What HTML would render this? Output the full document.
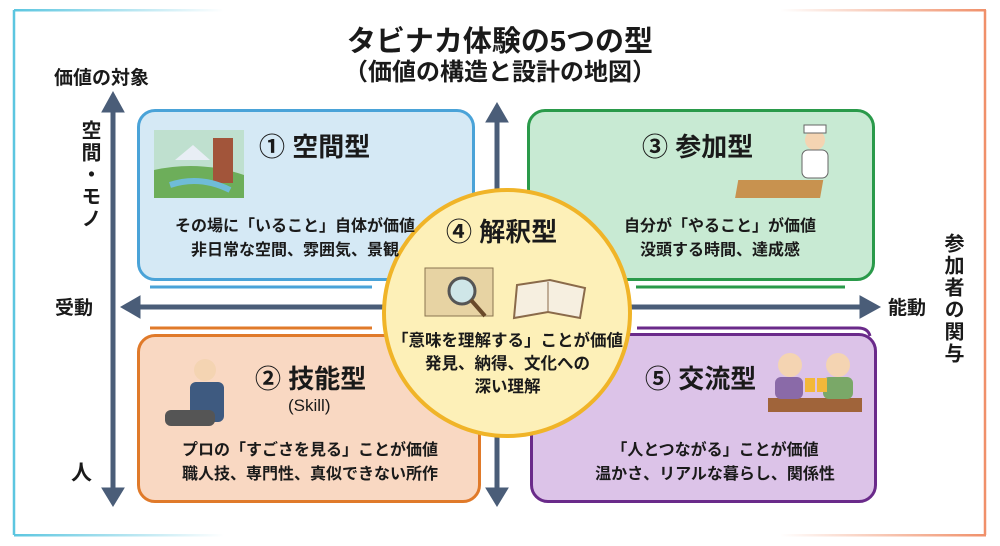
<!DOCTYPE html>
<html><head><meta charset="utf-8"><style>
*{margin:0;padding:0;box-sizing:border-box}
body{width:1000px;height:546px;background:#fff;position:relative;overflow:hidden;font-family:"Liberation Sans","Noto Sans CJK JP",sans-serif;color:#1a1a1a}
.a{position:absolute}
.t{position:absolute;font-weight:bold;white-space:nowrap}
.box{position:absolute;border-radius:18px;border:3px solid}
.c{text-align:center}
.v{writing-mode:vertical-rl;font-weight:bold;font-size:20px;letter-spacing:2px}
</style></head><body>
<svg class="a" style="left:0;top:0" width="1000" height="546">
<defs>
<linearGradient id="gc" x1="0" x2="1"><stop offset="0" stop-color="#5cc6e0"/><stop offset="1" stop-color="#5cc6e0" stop-opacity="0"/></linearGradient>
<linearGradient id="go" x1="1" x2="0"><stop offset="0" stop-color="#f0906a"/><stop offset="1" stop-color="#f0906a" stop-opacity="0"/></linearGradient>
</defs>
<path d="M14 10 V535" stroke="#5cc6e0" stroke-width="2.5"/>
<rect x="14" y="9" width="210" height="2.5" fill="url(#gc)"/>
<rect x="14" y="534" width="210" height="2.5" fill="url(#gc)"/>
<path d="M985 10 V535" stroke="#f0906a" stroke-width="2.5"/>
<rect x="780" y="9" width="206" height="2.5" fill="url(#go)"/>
<rect x="780" y="534" width="206" height="2.5" fill="url(#go)"/>
<path d="M150 287 H372" stroke="#4aa3d8" stroke-width="3"/>
<path d="M636 287 H845" stroke="#2a9a4a" stroke-width="3"/>
<path d="M150 328 H372" stroke="#e07a2a" stroke-width="3"/>
<path d="M637 328 H858 q10 0 12 8" stroke="#6a2a8a" stroke-width="3" fill="none"/>
</svg>
<div class="box" style="left:137px;top:109px;width:338px;height:172px;border-color:#4aa3d8;background:#d5e9f5"></div>
<div class="box" style="left:527px;top:109px;width:348px;height:172px;border-color:#2a9a4a;background:#c8ead3"></div>
<div class="box" style="left:137px;top:334px;width:344px;height:169px;border-color:#e07a2a;background:#f9d8c2"></div>
<div class="box" style="left:530px;top:333px;width:347px;height:170px;border-color:#6a2a8a;background:#dcc3e8"></div>
<svg class="a" style="left:0;top:0" width="1000" height="546">
<g fill="#4a5d78" stroke="#4a5d78">
<path d="M113 110 V490" stroke-width="5"/>
<path d="M102 112 L113 92 L124 112Z"/><path d="M102 488 L113 506 L124 488Z"/>
<path d="M497 120 V490" stroke-width="5"/>
<path d="M486 122 L497 103 L508 122Z"/><path d="M486 488 L497 506 L508 488Z"/>
<path d="M138 307 H862" stroke-width="5"/>
<path d="M140 296 L121 307 L140 318Z"/><path d="M860 296 L880 307 L860 318Z"/>
</g>
<circle cx="507" cy="313" r="123" fill="#fdf0b8" stroke="#f0b428" stroke-width="4"/>
<g>
<rect x="154" y="130" width="90" height="68" fill="#bfe0cf"/>
<path d="M154 198 L154 170 Q200 160 244 175 L244 198Z" fill="#6dae5a"/>
<path d="M175 160 L193 145 L210 160Z" fill="#e8eef5"/>
<rect x="213" y="138" width="20" height="45" fill="#a2553a"/>
<path d="M170 185 Q200 175 230 190" stroke="#6fbcd8" stroke-width="6" fill="none"/>
</g>
<g>
<rect x="770" y="180" width="85" height="18" fill="#c8924f" transform="skewX(-10)"/>
<circle cx="815" cy="140" r="10" fill="#f4d4b2"/>
<rect x="802" y="150" width="26" height="28" rx="6" fill="#fff" stroke="#666"/>
<rect x="804" y="125" width="22" height="8" fill="#fff" stroke="#666"/>
</g>
<g>
<circle cx="205" cy="370" r="11" fill="#f4d4b2"/>
<rect x="190" y="382" width="34" height="40" rx="6" fill="#3e5a80"/>
<rect x="165" y="410" width="50" height="16" rx="6" fill="#555"/>
</g>
<g>
<rect x="768" y="398" width="94" height="14" fill="#a0643a"/>
<circle cx="790" cy="365" r="12" fill="#f4d4b2"/><rect x="775" y="377" width="28" height="22" rx="6" fill="#8a6aa8"/>
<circle cx="838" cy="365" r="12" fill="#f4d4b2"/><rect x="823" y="377" width="30" height="22" rx="6" fill="#7aa868"/>
<rect x="805" y="378" width="10" height="14" fill="#f3b83a"/><rect x="817" y="378" width="10" height="14" fill="#f3b83a"/>
</g>
<g>
<rect x="425" y="268" width="68" height="48" fill="#e7d3a3" stroke="#8a7450"/>
<circle cx="462" cy="291" r="13" fill="#cfe6e8" stroke="#555" stroke-width="3"/>
<path d="M471 300 L485 316" stroke="#6a4a2a" stroke-width="4"/>
<path d="M517 285 L550 280 L585 288 L580 318 L548 312 L514 318Z" fill="#f6efe0" stroke="#8a6a4a" stroke-width="2"/>
<path d="M548 282 V312" stroke="#8a6a4a"/>
</g>
</svg>
<div class="t c" style="left:280px;top:18px;width:440px;font-size:29px">タビナカ体験の5つの型</div>
<div class="t c" style="left:280px;top:52px;width:440px;font-size:24px">（価値の構造と設計の地図）</div>
<div class="t" style="left:54px;top:63px;font-size:19px">価値の対象</div>
<div class="a v" style="left:75px;top:120px">空間・モノ</div>
<div class="t" style="left:55px;top:293px;font-size:19px">受動</div>
<div class="t" style="left:71px;top:457px;font-size:21px">人</div>
<div class="t" style="left:888px;top:293px;font-size:19px">能動</div>
<div class="a v" style="left:938px;top:233px">参加者の関与</div>

<div class="t" style="left:259px;top:127px;font-size:26px">① 空間型</div>
<div class="t c" style="left:130px;top:215px;width:330px;font-size:16px;line-height:24px">その場に「いること」自体が価値<br>非日常な空間、雰囲気、景観</div>
<div class="t" style="left:642px;top:127px;font-size:26px">③ 参加型</div>
<div class="t c" style="left:590px;top:215px;width:260px;font-size:16px;line-height:24px">自分が「やること」が価値<br>没頭する時間、達成感</div>
<div class="t" style="left:255px;top:359px;font-size:26px">② 技能型</div>
<div class="a" style="left:288px;top:396px;font-size:17px">(Skill)</div>
<div class="t c" style="left:135px;top:439px;width:350px;font-size:16px;line-height:24px">プロの「すごさを見る」ことが価値<br>職人技、専門性、真似できない所作</div>
<div class="t" style="left:645px;top:359px;font-size:26px">⑤ 交流型</div>
<div class="t c" style="left:555px;top:439px;width:320px;font-size:16px;line-height:24px">「人とつながる」ことが価値<br>温かさ、リアルな暮らし、関係性</div>
<div class="t" style="left:446px;top:212px;font-size:26px">④ 解釈型</div>
<div class="t c" style="left:380px;top:330px;width:255px;font-size:16.5px;line-height:23px">「意味を理解する」ことが価値<br>発見、納得、文化への<br>深い理解</div>
</body></html>
